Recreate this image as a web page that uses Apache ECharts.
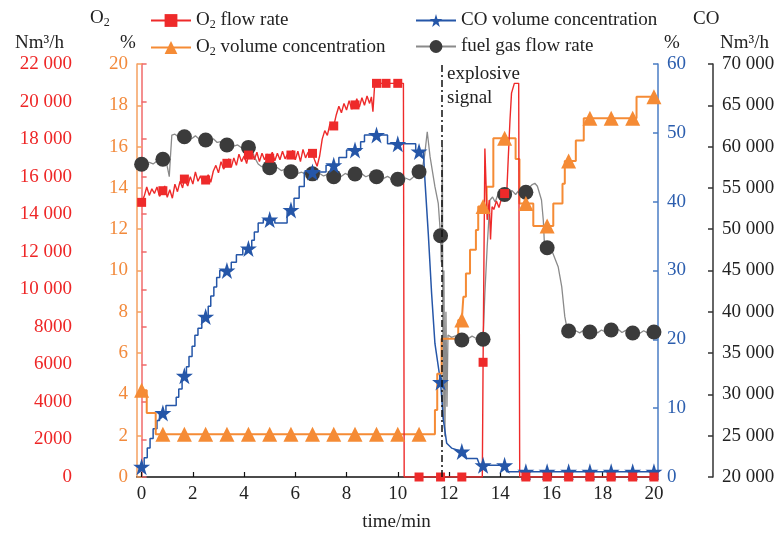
<!DOCTYPE html>
<html>
<head>
<meta charset="utf-8">
<script src="https://cdn.jsdelivr.net/npm/echarts@6/dist/echarts.min.js"></script>
<style>
html, body { margin: 0; padding: 0; background: #fff; }
#chart { width: 783px; height: 535px; }
</style>
</head>
<body>
<div id="chart"></div>
<script>
// time/min ticks
const timeTicks = [0, 2, 4, 6, 8, 10, 12, 14, 16, 18, 20]
const explosiveTime = 11.7

// O2 flow rate, Nm3/h  [time, value]
const o2FlowTrace = [
  [0.1,14950],[0.2,15450],[0.3,15000],[0.4,15350],[0.5,15100],[0.6,15450],[0.7,14950],[0.9,15500],
  [1.0,14900],[1.1,15300],[1.2,14850],[1.3,15600],[1.4,15200],[1.5,15750],[1.6,15400],[1.8,15500],
  [1.9,16000],[2.0,15600],[2.1,16250],[2.2,15750],[2.3,16050],[2.4,15650],[2.6,16100],[2.7,15700],
  [2.8,16300],[2.9,16600],[3.0,16200],[3.1,16800],[3.2,16400],[3.4,16950],[3.5,16500],[3.6,17000],
  [3.7,16600],[3.8,17200],[3.9,16800],[4.0,17100],[4.1,16700],[4.3,17350],[4.4,16900],[4.5,17300],
  [4.6,16800],[4.7,17250],[4.8,16900],[4.9,17200],[5.1,17300],[5.2,16850],[5.3,17250],[5.4,16900],
  [5.5,17350],[5.6,16950],[5.7,17200],[5.9,17400],[6.0,16900],[6.1,17350],[6.2,16800],[6.3,17450],
  [6.4,17000],[6.5,17300],[6.75,16900],[6.85,16550],[6.95,17100],[7.05,18000],[7.15,18450],[7.25,18200],
  [7.35,18800],[7.6,19300],[7.7,19750],[7.8,19400],[7.9,19900],[8.0,19550],[8.1,20050],[8.2,19600],
  [8.4,20150],[8.5,19700],[8.6,20200],[8.7,19800],[8.8,20300],[8.9,19900],[8.97,20250],[9.03,19460],
  [9.1,20970],[10.22,20970],[10.25,0],[13.3,0],[13.4,17500],[13.49,13700],[13.57,14750],[13.62,12650],
  [13.68,14400],[13.75,14250],[13.85,14700],[13.95,14350],[14.05,14850],[14.25,15000],[14.31,16900],
  [14.38,19000],[14.44,20450],[14.55,20970],[14.72,20970],[14.76,0],[20,0]
]
const o2FlowMarks = [
  [0,14630],[0.83,15250],[1.67,15870],[2.5,15820],[3.33,16710],[4.17,17150],[5,16980],[5.83,17150],
  [6.67,17240],[7.5,18700],[8.33,19820],[9.17,20970],[9.54,20970],[10,20970],[10.83,0],[11.67,0],
  [12.5,0],[13.33,6110],[14.17,15100],[15,0],[15.83,0],[16.67,0],[17.5,0],[18.33,0],[19.17,0],[20,0]
]

// O2 volume concentration, %
const o2PctTrace = [
  [0,4.2],[0.2,4.2],[0.2,3.1],[0.55,3.1],[0.55,2.07],[11.45,2.07],[11.45,3.24],[11.54,3.24],[11.54,5.0],
  [11.71,5.0],[11.71,6.7],[12.36,6.7],[12.36,7.6],[12.56,7.6],[12.56,8.73],[12.66,8.73],[12.66,9.86],
  [12.82,9.86],[12.82,11.0],[13.05,11.0],[13.05,11.96],[13.14,11.96],[13.14,13.1],[13.47,13.1],
  [13.47,14.06],[13.73,14.06],[13.73,16.4],[14.6,16.4],[14.6,15.4],[14.75,15.4],[14.75,13.25],
  [15.29,13.25],[15.29,12.15],[16.07,12.15],[16.07,13.25],[16.43,13.25],[16.43,14.2],[16.52,14.2],
  [16.52,15.3],[16.95,15.3],[16.95,16.3],[17.26,16.3],[17.26,17.37],[19.32,17.37],[19.32,18.42],[20,18.42]
]
const o2PctMarks = [
  [0,4.2],[0.83,2.07],[1.67,2.07],[2.5,2.07],[3.33,2.07],[4.17,2.07],[5,2.07],[5.83,2.07],[6.67,2.07],
  [7.5,2.07],[8.33,2.07],[9.17,2.07],[10,2.07],[10.83,2.07],[12.5,7.6],[13.33,13.1],[14.17,16.4],
  [15,13.25],[15.83,12.15],[16.67,15.3],[17.5,17.37],[18.33,17.37],[19.17,17.37],[20,18.42]
]

// CO volume concentration, %
const coPctTrace = [
  [0.1,1.5],[0.1,2.8],[0.22,2.8],[0.22,4.2],[0.33,4.2],[0.33,5.6],[0.45,5.6],[0.45,7.0],[0.6,7.0],
  [0.6,8.2],[0.7,8.2],[0.7,9.3],[0.95,9.3],[0.95,10.4],[1.35,10.4],[1.35,11.6],[1.45,11.6],[1.45,12.8],
  [1.58,12.8],[1.58,14.7],[1.75,14.7],[1.75,16.0],[1.85,16.0],[1.85,17.5],[1.97,17.5],[1.97,19.0],
  [2.08,19.0],[2.08,20.6],[2.2,20.6],[2.2,21.6],[2.35,21.6],[2.35,23.3],[2.6,23.3],[2.6,24.8],[2.7,24.8],
  [2.7,26.3],[2.82,26.3],[2.82,27.6],[2.93,27.6],[2.93,29.0],[3.05,29.0],[3.05,30.0],[3.5,30.0],
  [3.5,31.2],[3.7,31.2],[3.7,32.3],[3.95,32.3],[3.95,33.2],[4.3,33.2],[4.3,34.4],[4.4,34.4],[4.4,35.6],
  [4.55,35.6],[4.55,36.9],[4.75,36.9],[4.75,37.4],[5.2,37.4],[5.2,36.9],[5.68,36.9],[5.68,38.8],
  [5.95,38.8],[5.95,40.5],[6.15,40.5],[6.15,42.2],[6.35,42.2],[6.35,44.3],[7.2,44.3],[7.2,45.3],
  [7.7,45.3],[7.7,46.4],[8.0,46.4],[8.0,47.5],[8.55,47.5],[8.55,48.7],[8.7,48.7],[8.7,49.7],[9.6,49.7],
  [9.6,48.4],[10.7,48.4],[10.7,47.3],[11.0,47.3],[11.06,43.1],[11.19,35.4],[11.32,26.7],[11.45,19.4],
  [11.78,8.3],[11.91,4.9],[12.1,4.2],[12.6,3.7],[12.69,2.7],[13.1,2.7],[13.2,1.7],[14.2,1.7],[14.25,0.77]
]
const coPctMarks = [
  [0,1.5],[0.83,9.3],[1.67,14.7],[2.5,23.3],[3.33,30.0],[4.17,33.2],[5,37.4],[5.83,38.8],[6.67,44.3],
  [7.5,45.3],[8.33,47.5],[9.17,49.7],[10,48.4],[10.83,47.3],[11.67,13.8],[12.5,3.7],[13.33,1.7],
  [14.17,1.7],[15,0.77],[15.83,0.77],[16.67,0.77],[17.5,0.77],[18.33,0.77],[19.17,0.77],[20,0.77]
]

// fuel gas flow rate, Nm3/h
const fuelTrace = [
  [0.15,57950],[0.3,58100],[0.45,57900],[0.6,58250],[0.7,58150],[0.95,58300],[1.02,57300],[1.08,56360],
  [1.12,58500],[1.18,61400],[1.3,61500],[1.45,61150],[1.55,61350],[1.8,61250],[1.95,60950],[2.1,61300],
  [2.25,60900],[2.4,61100],[2.65,60700],[2.8,60950],[2.95,60500],[3.1,60600],[3.2,60250],[3.45,60350],
  [3.6,60050],[3.75,60200],[3.9,59850],[4.05,60000],[4.3,59600],[4.43,58580],[4.55,57900],[4.69,57570],
  [4.85,57650],[5.15,57300],[5.3,57450],[5.45,57100],[5.6,57250],[5.7,56900],[5.95,57000],[6.1,56750],
  [6.25,56900],[6.4,56650],[6.55,56800],[6.8,56600],[6.95,56750],[7.1,56450],[7.25,56600],[7.35,56350],
  [7.65,56550],[7.8,56400],[7.95,56750],[8.1,56500],[8.2,56800],[8.45,56550],[8.6,56700],[8.75,56350],
  [8.9,56550],[9.05,56300],[9.3,56450],[9.45,56150],[9.6,56400],[9.75,56100],[9.85,56250],[10.15,56000],
  [10.3,56200],[10.47,55960],[10.6,56300],[10.7,56800],[10.95,57200],[11.05,59000],[11.15,61800],
  [11.26,58780],[11.45,55150],[11.58,53140],[11.7,46000],[11.74,60000],[11.77,27000],[11.8,45000],
  [11.84,24900],[11.88,40000],[11.92,28500],[11.96,37200],[12.1,36900],[12.25,37100],[12.4,36700],
  [12.6,37000],[12.75,36750],[12.9,37050],[13.05,36800],[13.2,36950],[13.4,42240],[13.49,47880],
  [13.6,53540],[13.7,53900],[13.8,53300],[13.9,54100],[14.0,53700],[14.1,54300],[14.3,54000],[14.45,54700],
  [14.6,54200],[14.75,54800],[14.9,54500],[15.05,54600],[15.16,55150],[15.25,55400],[15.35,55560],
  [15.45,55200],[15.61,53540],[15.68,51120],[15.72,48500],[16.0,47500],[16.07,47280],[16.26,45460],
  [16.4,43040],[16.52,39410],[16.6,38100],[16.8,37500],[16.95,37700],[17.1,37450],[17.25,37750],
  [17.4,37500],[17.65,37700],[17.8,37450],[17.95,37800],[18.1,37550],[18.2,37850],[18.45,37600],
  [18.6,37900],[18.75,37500],[18.9,37750],[19.05,37400],[19.3,37650],[19.45,37400],[19.6,37700],
  [19.75,37450],[19.9,37650]
]
const fuelMarks = [
  [0,57860],[0.83,58460],[1.67,61200],[2.5,60800],[3.33,60200],[4.17,59900],[5,57450],[5.83,56960],
  [6.67,56700],[7.5,56360],[8.33,56680],[9.17,56360],[10,56040],[10.83,56960],[11.67,49200],[12.5,36590],
  [13.33,36670],[14.17,54200],[15,54470],[15.83,47760],[16.67,37680],[17.5,37560],[18.33,37800],
  [19.17,37430],[20,37560]
]

const FONT = 'Liberation Serif'
const STAR = 'path://M50,0 L61,35 L98,35 L68,57 L79,91 L50,70 L21,91 L32,57 L2,35 L39,35 Z'

// merge a trace with its marker points; only marker points get a symbol
const buildData = (trace, marks) => {
  const pts = trace.map(p => ({ value: p, symbol: 'none' }))
    .concat(marks.map(p => ({ value: p })))
  return pts.sort((a, b) => a.value[0] - b.value[0])
}

const fmtNum = v => v >= 10000
  ? Math.floor(v / 1000) + ' ' + String(v % 1000).padStart(3, '0')
  : String(v)

const sub = { s: { fontSize: 12, fontFamily: FONT, padding: [9, 0, 0, 0] } }

const yAxisBase = (color, lineColor, pos, offset, min, max, interval) => ({
  type: 'value',
  position: pos,
  offset: offset,
  min: min,
  max: max,
  interval: interval,
  splitLine: { show: false },
  axisLine: { show: true, lineStyle: { color: lineColor, width: 1.5 } },
  axisTick: { show: true, inside: true, length: 5, lineStyle: { color: lineColor, width: 1.5 } },
  axisLabel: { color: color, fontSize: 19, fontFamily: FONT, margin: 9, formatter: fmtNum }
})

const chart = echarts.init(document.getElementById('chart'), null, { renderer: 'canvas' })

const option = {
  animation: false,
  backgroundColor: '#fff',
  grid: { left: 137, right: 127, top: 64, bottom: 58, outerBoundsMode: 'none' },
  legend: [
    {
      data: ['O2 flow rate', 'O2 volume concentration'],
      orient: 'vertical', left: 145, top: 6, itemGap: 7, itemWidth: 40, itemHeight: 16,
      textStyle: { fontSize: 19, fontFamily: FONT, color: '#222', rich: sub },
      formatter: n => n === 'O2 flow rate' ? 'O{s|2} flow rate' : 'O{s|2} volume concentration'
    },
    {
      data: ['CO volume concentration', 'fuel gas flow rate'],
      orient: 'vertical', left: 410, top: 6, itemGap: 7, itemWidth: 40, itemHeight: 16,
      textStyle: { fontSize: 19, fontFamily: FONT, color: '#222' }
    }
  ],
  xAxis: {
    type: 'value',
    min: -0.18,
    max: 20.08,
    name: 'time/min',
    nameLocation: 'middle',
    nameGap: 36,
    nameTextStyle: { fontSize: 19, fontFamily: FONT, color: '#222' },
    splitLine: { show: false },
    axisLine: { onZero: false, lineStyle: { color: '#111', width: 1.5 } },
    axisTick: { inside: true, length: 5, customValues: timeTicks, lineStyle: { color: '#111', width: 1.2 } },
    axisLabel: { customValues: timeTicks, color: '#222', fontSize: 19, fontFamily: FONT, margin: 8 }
  },
  yAxis: [
    yAxisBase('#ee2626', '#f06a6a', 'left', 56, 0, 22000, 2000),
    yAxisBase('#f28a3c', '#f5a060', 'left', 0, 0, 20, 2),
    yAxisBase('#2c5eae', '#4a7cc4', 'right', 2, 0, 60, 10),
    yAxisBase('#222', '#333', 'right', 57, 20000, 70000, 5000)
  ],
  graphic: [
    { type: 'text', left: 90, top: 9, style: { text: 'O{s|2}', fontSize: 19, fontFamily: FONT, fill: '#222', rich: sub } },
    { type: 'text', left: 15, top: 34, style: { text: 'Nm³/h', fontSize: 19, fontFamily: FONT, fill: '#222' } },
    { type: 'text', left: 120, top: 34, style: { text: '%', fontSize: 19, fontFamily: FONT, fill: '#222' } },
    { type: 'text', left: 693, top: 10, style: { text: 'CO', fontSize: 19, fontFamily: FONT, fill: '#222' } },
    { type: 'text', left: 664, top: 34, style: { text: '%', fontSize: 19, fontFamily: FONT, fill: '#222' } },
    { type: 'text', left: 720, top: 34, style: { text: 'Nm³/h', fontSize: 19, fontFamily: FONT, fill: '#222' } },
    { type: 'text', left: 447, top: 62, style: { text: 'explosive\nsignal', fontSize: 19, lineHeight: 24, fontFamily: FONT, fill: '#222' } }
  ],
  series: [
    {
      name: 'fuel gas flow rate', type: 'line', yAxisIndex: 3,
      symbol: 'circle', symbolSize: 15, showAllSymbol: true,
      lineStyle: { color: '#8a8a8a', width: 1.3 },
      itemStyle: { color: '#3b3b3b' },
      data: buildData(fuelTrace, fuelMarks)
    },
    {
      name: 'CO volume concentration', type: 'line', yAxisIndex: 2,
      symbol: STAR, symbolSize: 17, showAllSymbol: true,
      lineStyle: { color: '#2556a8', width: 1.5 },
      itemStyle: { color: '#2556a8' },
      data: buildData(coPctTrace, coPctMarks)
    },
    {
      name: 'O2 volume concentration', type: 'line', yAxisIndex: 1,
      symbol: 'triangle', symbolSize: 15, showAllSymbol: true,
      lineStyle: { color: '#f58b35', width: 2 },
      itemStyle: { color: '#f58b35' },
      data: buildData(o2PctTrace, o2PctMarks)
    },
    {
      name: 'O2 flow rate', type: 'line', yAxisIndex: 0,
      symbol: 'rect', symbolSize: 9, showAllSymbol: true,
      lineStyle: { color: '#ee2a2a', width: 1.4 },
      itemStyle: { color: '#ee2a2a' },
      data: buildData(o2FlowTrace, o2FlowMarks),
      markLine: {
        silent: true,
        symbol: ['none', 'none'],
        label: { show: false },
        lineStyle: { color: '#111', type: [7, 3, 2, 3], width: 1.5 },
        data: [{ xAxis: explosiveTime }]
      }
    }
  ]
}

chart.setOption(option)
</script>
</body>
</html>
